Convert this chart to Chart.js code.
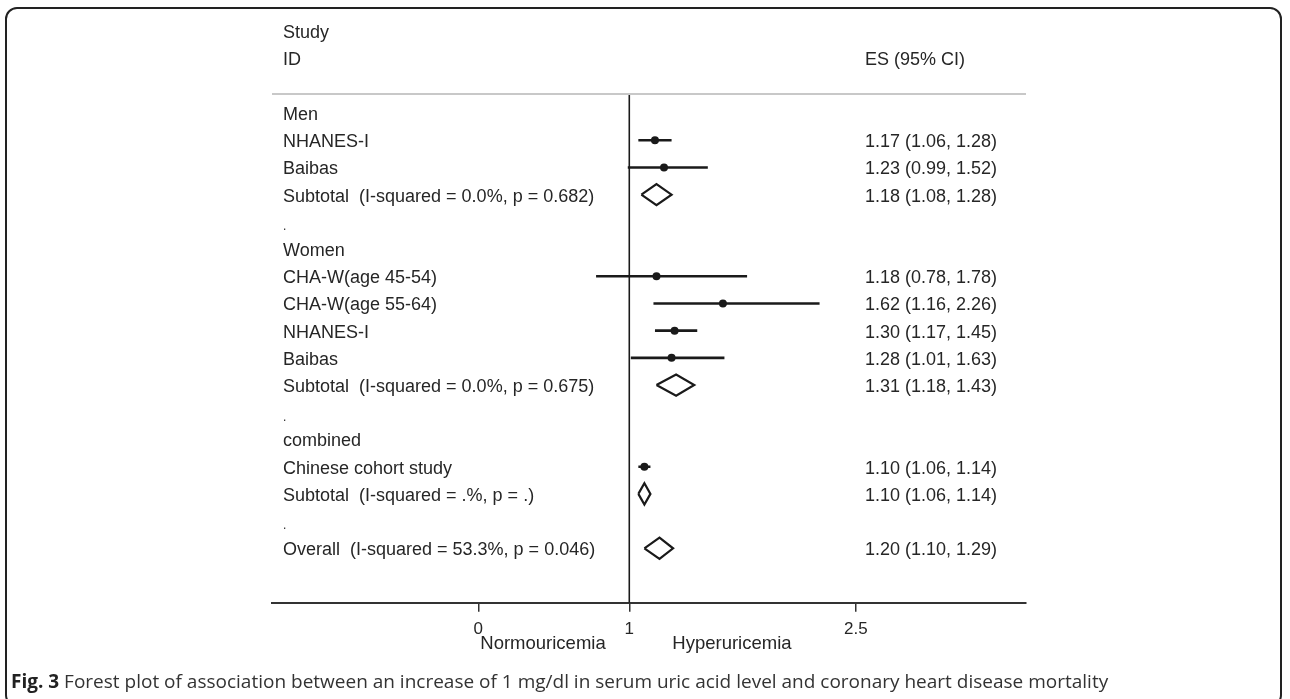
<!DOCTYPE html>
<html>
<head>
<meta charset="utf-8">
<script src="https://cdn.jsdelivr.net/npm/chart.js@4/dist/chart.umd.min.js"></script>
<style>
  html, body { margin: 0; padding: 0; background: #fff; }
  #wrap { position: relative; width: 1290px; height: 699px; overflow: hidden; }
  #frame {
    position: absolute; left: 5px; top: 7px; width: 1277px; height: 700px;
    border: 2px solid #222; border-radius: 12px; box-sizing: border-box;
  }
  canvas { position: absolute; left: 0; top: 0; }
  #caption {
    position: absolute; left: 11px; top: 668px;
    font-family: "Open Sans", "Noto Sans", sans-serif; font-size: 19px;
    color: #333; white-space: nowrap; line-height: 26px;
  }
  #caption b { color: #222; }
</style>
</head>
<body>
<div id="wrap">
  <div id="frame"></div>
  <canvas id="forest" width="1290" height="699"></canvas>
  <div id="caption"><b>Fig. 3</b> Forest plot of association between an increase of 1 mg/dl in serum uric acid level and coronary heart disease mortality</div>
</div>
<script>
// Study rows, top to bottom
const rowLabels = [
  'Men',
  'NHANES-I',
  'Baibas',
  'Subtotal  (I-squared = 0.0%, p = 0.682)',
  '.',
  'Women',
  'CHA-W(age 45-54)',
  'CHA-W(age 55-64)',
  'NHANES-I',
  'Baibas',
  'Subtotal  (I-squared = 0.0%, p = 0.675)',
  '.',
  'combined',
  'Chinese cohort study',
  'Subtotal  (I-squared = .%, p = .)',
  '.',
  'Overall  (I-squared = 53.3%, p = 0.046)'
];
// 'head' = group title, 'study' = single study, 'pooled' = pooled estimate, 'gap' = spacer
const rowKinds = ['head','study','study','pooled','gap','head','study','study','study','study','pooled','gap','head','study','pooled','gap','pooled'];
// Effect size and 95% CI per row
const esValues = [null, 1.17, 1.23, 1.18, null, null, 1.18, 1.62, 1.30, 1.28, 1.31, null, null, 1.10, 1.10, null, 1.20];
const ciLower  = [null, 1.06, 0.99, 1.08, null, null, 0.78, 1.16, 1.17, 1.01, 1.18, null, null, 1.06, 1.06, null, 1.10];
const ciUpper  = [null, 1.28, 1.52, 1.28, null, null, 1.78, 2.26, 1.45, 1.63, 1.43, null, null, 1.14, 1.14, null, 1.29];

const xTickValues = [0, 1, 2.5];
const nullEffect = 1;
const sideLabels = ['Normouricemia', 'Hyperuricemia'];
const headerLeft = ['Study', 'ID'];
const headerRight = 'ES (95% CI)';

const INK = '#1a1a1a';
const TEXT = '#262626';
const FONT = '"Liberation Sans", Arial, sans-serif';
const DIAMOND_HALF = 0.39; // half height of pooled diamonds, in row units

const datasets = [];

// reference line at no effect
datasets.push({
  type: 'line',
  data: [{ x: nullEffect, y: -0.66 }, { x: nullEffect, y: 18 }],
  borderColor: INK, borderWidth: 1.6, pointRadius: 0, fill: false
});

rowKinds.forEach((kind, i) => {
  if (kind === 'study') {
    datasets.push({
      type: 'line',
      data: [{ x: ciLower[i], y: i }, { x: ciUpper[i], y: i }],
      borderColor: INK, borderWidth: 2.6, pointRadius: 0, fill: false
    });
  } else if (kind === 'pooled') {
    datasets.push({
      type: 'line',
      data: [
        { x: ciLower[i], y: i },
        { x: esValues[i], y: i - DIAMOND_HALF },
        { x: ciUpper[i], y: i },
        { x: esValues[i], y: i + DIAMOND_HALF },
        { x: ciLower[i], y: i }
      ],
      borderColor: INK, borderWidth: 2.2, pointRadius: 0, fill: false,
      borderJoinStyle: 'miter', tension: 0
    });
  }
});

// point estimates of single studies
datasets.push({
  type: 'scatter',
  data: rowKinds.map((k, i) => k === 'study' ? { x: esValues[i], y: i } : null).filter(Boolean),
  backgroundColor: INK, borderColor: INK, pointRadius: 4, pointStyle: 'circle', borderWidth: 0
});

const fmt = v => v.toFixed(2);

const textColumns = {
  id: 'textColumns',
  afterDatasetsDraw(chart) {
    const { ctx, chartArea, scales } = chart;
    const xs = scales.x, ys = scales.y;
    const leftX = chartArea.left + 11;
    const rightX = chartArea.left + 593;
    ctx.save();
    ctx.fillStyle = TEXT;
    ctx.font = '18px ' + FONT;
    ctx.textBaseline = 'middle';
    ctx.textAlign = 'left';

    ctx.fillText(headerLeft[0], leftX, ys.getPixelForValue(-2.95));
    ctx.fillText(headerLeft[1], leftX, ys.getPixelForValue(-1.95));
    ctx.fillText(headerRight, rightX, ys.getPixelForValue(-1.95));

    // header rule
    ctx.strokeStyle = '#c8c8c8';
    ctx.lineWidth = 2;
    const ry = ys.getPixelForValue(-0.7);
    ctx.beginPath();
    ctx.moveTo(chartArea.left, ry);
    ctx.lineTo(chartArea.right, ry);
    ctx.stroke();

    rowLabels.forEach((lab, i) => {
      const y = ys.getPixelForValue(i) + 2;
      if (rowKinds[i] === 'gap') {
        ctx.font = '12px ' + FONT;
        ctx.fillText(lab, leftX, y + 3);
        ctx.font = '18px ' + FONT;
      } else {
        ctx.fillText(lab, leftX, y);
      }
      if (esValues[i] !== null) {
        ctx.fillText(fmt(esValues[i]) + ' (' + fmt(ciLower[i]) + ', ' + fmt(ciUpper[i]) + ')', rightX, y);
      }
    });

    // direction labels under the axis
    const p1 = xs.getPixelForValue(nullEffect);
    const ly = chartArea.bottom + 41;
    ctx.font = '18.5px ' + FONT;
    ctx.textAlign = 'left';
    ctx.fillText(sideLabels[0], p1 - 149, ly);
    ctx.fillText(sideLabels[1], p1 + 43, ly);
    ctx.restore();
  }
};

new Chart(document.getElementById('forest'), {
  type: 'scatter',
  data: { datasets },
  options: {
    responsive: false,
    animation: false,
    devicePixelRatio: 1,
    layout: { padding: { left: 272, right: 264, top: 17.8, bottom: 46.3 } },
    plugins: { legend: { display: false }, tooltip: { enabled: false } },
    scales: {
      x: {
        type: 'linear', min: -1.366, max: 3.627,
        afterBuildTicks: s => { s.ticks = xTickValues.map(v => ({ value: v })); },
        afterFit: s => { s.height = 50; },
        ticks: {
          autoSkip: false, maxRotation: 0, padding: 7, color: TEXT,
          font: { family: FONT, size: 17 },
          callback: v => String(v)
        },
        grid: { drawOnChartArea: false, drawTicks: true, tickLength: 9, color: '#333', lineWidth: 1.5 },
        border: { display: true, color: '#333', width: 2 }
      },
      y: { type: 'linear', reverse: true, min: -3.5, max: 18, display: false }
    }
  },
  plugins: [textColumns]
});
</script>
</body>
</html>
